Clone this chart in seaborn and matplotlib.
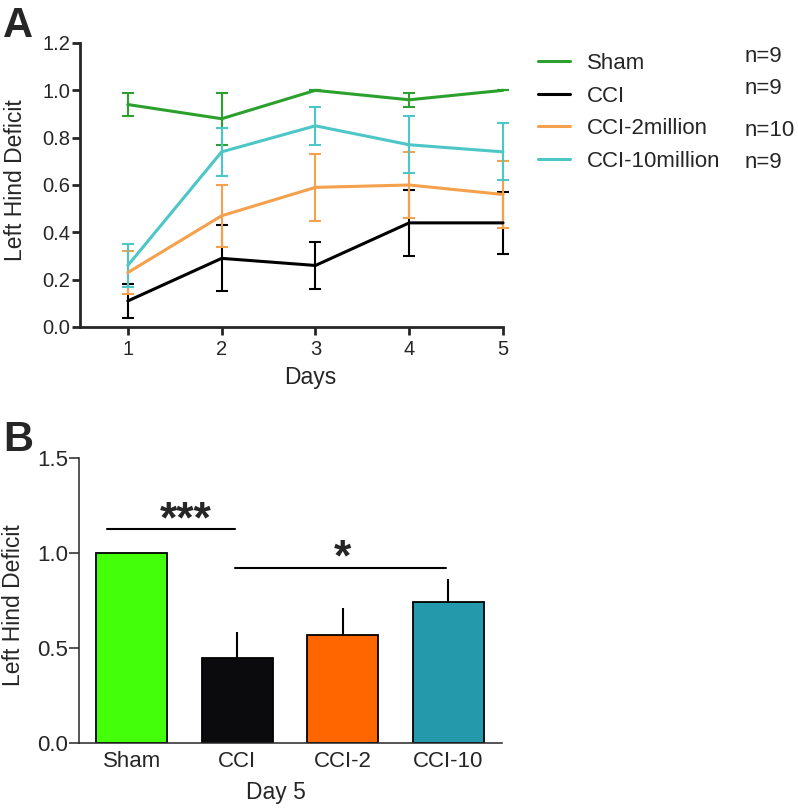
import numpy as np
import pandas as pd
import matplotlib
matplotlib.use("Agg")
import matplotlib.pyplot as plt
import seaborn as sns
from matplotlib.lines import Line2D

# ── Data ─────────────────────────────────────────────────────────────────────
days = [1, 2, 3, 4, 5]
groups = ["Sham", "CCI", "CCI-2million", "CCI-10million"]
n_labels = ["n=9", "n=9", "n=10", "n=9"]

sham_mean = [0.94, 0.88, 1.00, 0.96, 1.00]
sham_sem = [0.05, 0.11, 0.00, 0.03, 0.00]
cci_mean = [0.11, 0.29, 0.26, 0.44, 0.44]
cci_sem = [0.07, 0.14, 0.10, 0.14, 0.13]
cci2_mean = [0.23, 0.47, 0.59, 0.60, 0.56]
cci2_sem = [0.09, 0.13, 0.14, 0.14, 0.14]
cci10_mean = [0.26, 0.74, 0.85, 0.77, 0.74]
cci10_sem = [0.09, 0.10, 0.08, 0.12, 0.12]

line_colors = ["#2ca02c", "#000000", "#f5a04c", "#4cc6c6"]

bar_groups = ["Sham", "CCI", "CCI-2", "CCI-10"]
bar_mean = [1.00, 0.445, 0.567, 0.741]
bar_sem = [0.00, 0.138, 0.143, 0.123]
bar_colors = ["#44ff0a", "#0b0b0d", "#ff6600", "#2499ab"]

sns.set_theme(style="ticks")
plt.rcParams["font.family"] = ["Liberation Sans", "DejaVu Sans"]

fig = plt.figure(figsize=(7.98, 8.09), dpi=100)

# ── Panel A ──────────────────────────────────────────────────────────────────
axA = fig.add_axes([80 / 798, 1 - 327 / 809, 423 / 798, 284 / 809])

means = [sham_mean, cci_mean, cci2_mean, cci10_mean]
sems = [sham_sem, cci_sem, cci2_sem, cci10_sem]
dfA = pd.DataFrame({
    "day": np.tile(days, len(groups)),
    "mean": np.concatenate(means),
    "sem": np.concatenate(sems),
    "group": np.repeat(groups, len(days)),
})

for g, c in zip(groups, line_colors):
    sub = dfA[dfA["group"] == g]
    axA.errorbar(sub["day"], sub["mean"], yerr=sub["sem"], fmt="none",
                 ecolor=c, elinewidth=1.5, capsize=4, capthick=1.5,
                 zorder=2, clip_on=False)

sns.lineplot(data=dfA, x="day", y="mean", hue="group", hue_order=groups,
             palette=line_colors, linewidth=2.2, legend=False, ax=axA,
             zorder=3, clip_on=False)

axA.set_xlim(0.49, 5.0)
axA.set_ylim(0, 1.2)
axA.set_xticks(days)
axA.set_yticks(np.arange(0, 1.21, 0.2))
axA.set_yticklabels([f"{v:.1f}" for v in np.arange(0, 1.21, 0.2)])
axA.tick_params(labelsize=14.5, width=2, length=6, direction="out")
axA.tick_params(axis="y", pad=1)
for s in ["left", "bottom"]:
    axA.spines[s].set_linewidth(2)
sns.despine(ax=axA)
axA.set_xlabel("Days", fontsize=16.5)
axA.set_ylabel("Left Hind Deficit", fontsize=16.5)
axA.xaxis.set_label_coords(0.544, -0.138)
axA.yaxis.set_label_coords(-0.126, 0.518)

handles = [Line2D([0], [0], color=c, lw=2.2) for c in line_colors]
axA.legend(handles, groups, loc="upper left",
           bbox_to_anchor=(538 / 798, 1 - 53 / 809),
           bbox_transform=fig.transFigure, frameon=False, fontsize=16,
           handlelength=1.45, handletextpad=0.75, labelspacing=0.52,
           borderpad=0, borderaxespad=0)
n_y = [57, 89, 131, 162]
for lab, y in zip(n_labels, n_y):
    fig.text(745 / 798, 1 - y / 809, lab, fontsize=16, va="center", ha="left")

# ── Panel B ──────────────────────────────────────────────────────────────────
axB = fig.add_axes([79 / 798, 1 - 742.7 / 809, 423 / 798, 285 / 809])
dfB = pd.DataFrame({"group": bar_groups, "mean": bar_mean, "sem": bar_sem})

axB.errorbar(range(len(bar_groups)), dfB["mean"],
             yerr=[np.zeros(len(bar_groups)), dfB["sem"]], fmt="none",
             ecolor="black", elinewidth=1.5, capsize=0, zorder=1)
sns.barplot(data=dfB, x="group", y="mean", hue="group", palette=bar_colors,
            saturation=1, legend=False, width=0.67, edgecolor="black",
            linewidth=1.3, errorbar=None, ax=axB, zorder=2)

axB.set_xlim(-0.5, 3.51)
axB.set_ylim(0, 1.5)
axB.set_yticks([0, 0.5, 1.0, 1.5])
axB.set_yticklabels(["0.0", "0.5", "1.0", "1.5"])
axB.tick_params(axis="y", labelsize=16, width=1.1, length=7, pad=1)
axB.tick_params(axis="x", labelsize=16, length=0, pad=6)
for s in ["left", "bottom"]:
    axB.spines[s].set_linewidth(1.1)
sns.despine(ax=axB)
axB.set_xlabel("Day 5", fontsize=16.5)
axB.set_ylabel("Left Hind Deficit", fontsize=16.5)
axB.xaxis.set_label_coords(0.466, -0.135)
axB.yaxis.set_label_coords(-0.128, 0.483)

# significance annotations
axB.plot([-0.23, 0.98], [1.127, 1.127], color="black", lw=1.5)
axB.text(0.51, 1.06, "***", ha="center", va="bottom", fontsize=32,
         fontweight="bold")
axB.plot([0.98, 2.98], [0.921, 0.921], color="black", lw=1.5)
axB.text(2.0, 0.86, "*", ha="center", va="bottom", fontsize=32,
         fontweight="bold")

# panel letters
fig.text(3 / 798, 1 - 37 / 809, "A", fontsize=30, fontweight="bold",
         va="baseline", ha="left")
fig.text(3 / 798, 1 - 451 / 809, "B", fontsize=30, fontweight="bold",
         va="baseline", ha="left")

fig.savefig("out.png", dpi=100)
